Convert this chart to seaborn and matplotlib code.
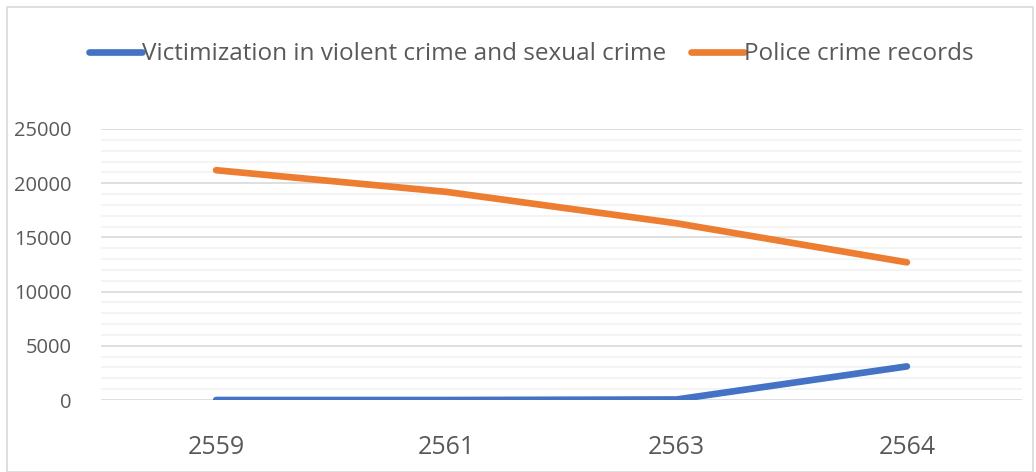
import pandas as pd
import matplotlib.pyplot as plt
import seaborn as sns
from matplotlib.ticker import MultipleLocator

years = ["2559", "2561", "2563", "2564"]
victimization = [0, 0, 50, 3100]
police_records = [21200, 19200, 16300, 12700]
series_names = ["Victimization in violent crime and sexual crime", "Police crime records"]

data = pd.DataFrame({
    "Year": years * 2,
    "Count": victimization + police_records,
    "Series": [series_names[0]] * 4 + [series_names[1]] * 4,
})

sns.set_style("white")
plt.rcParams['font.family'] = ['Open Sans', 'DejaVu Sans']

fig = plt.figure(figsize=(10.36, 4.72), dpi=100)
ax = fig.add_axes([0.0975, 0.1525, 0.889, 0.5742])

sns.lineplot(
    x="Year", y="Count", hue="Series", data=data, ax=ax,
    palette=["#4472C4", "#ED7D31"], linewidth=4.8, sort=False,
    legend=False
)
for line in ax.lines:
    line.set_solid_capstyle("round")

ax.set_xlim(-0.5, 3.5)
ax.set_ylim(0, 25000)
ax.yaxis.set_major_locator(MultipleLocator(5000))
ax.yaxis.set_minor_locator(MultipleLocator(1000))
ax.grid(axis="y", which="major", color="#D9D9D9", linewidth=1.2)
ax.grid(axis="y", which="minor", color="#F2F2F2", linewidth=1.2)
ax.set_axisbelow(True)
for s in ax.spines.values():
    s.set_visible(False)
ax.set_xlabel("")
ax.set_ylabel("")
ax.tick_params(axis="both", which="both", length=0, colors="#595959")
ax.tick_params(axis="y", labelsize=14.5, pad=21)
ax.tick_params(axis="x", labelsize=18, pad=25)

handles = [plt.Line2D([], [], color=c, linewidth=4.8, solid_capstyle="round") for c in ["#4472C4", "#ED7D31"]]
fig.legend(handles, series_names, loc="center", bbox_to_anchor=(0.513, 0.885), ncol=2,
           frameon=False, fontsize=17.5, labelcolor="#595959", handlelength=2.2,
           handletextpad=0.0, columnspacing=1.0)

fig.patches.append(plt.Rectangle((0.007, 0.0), 0.99, 0.985, transform=fig.transFigure,
                                 fill=False, edgecolor="#D9D9D9", linewidth=1.2))

plt.savefig("out.png", dpi=100)
